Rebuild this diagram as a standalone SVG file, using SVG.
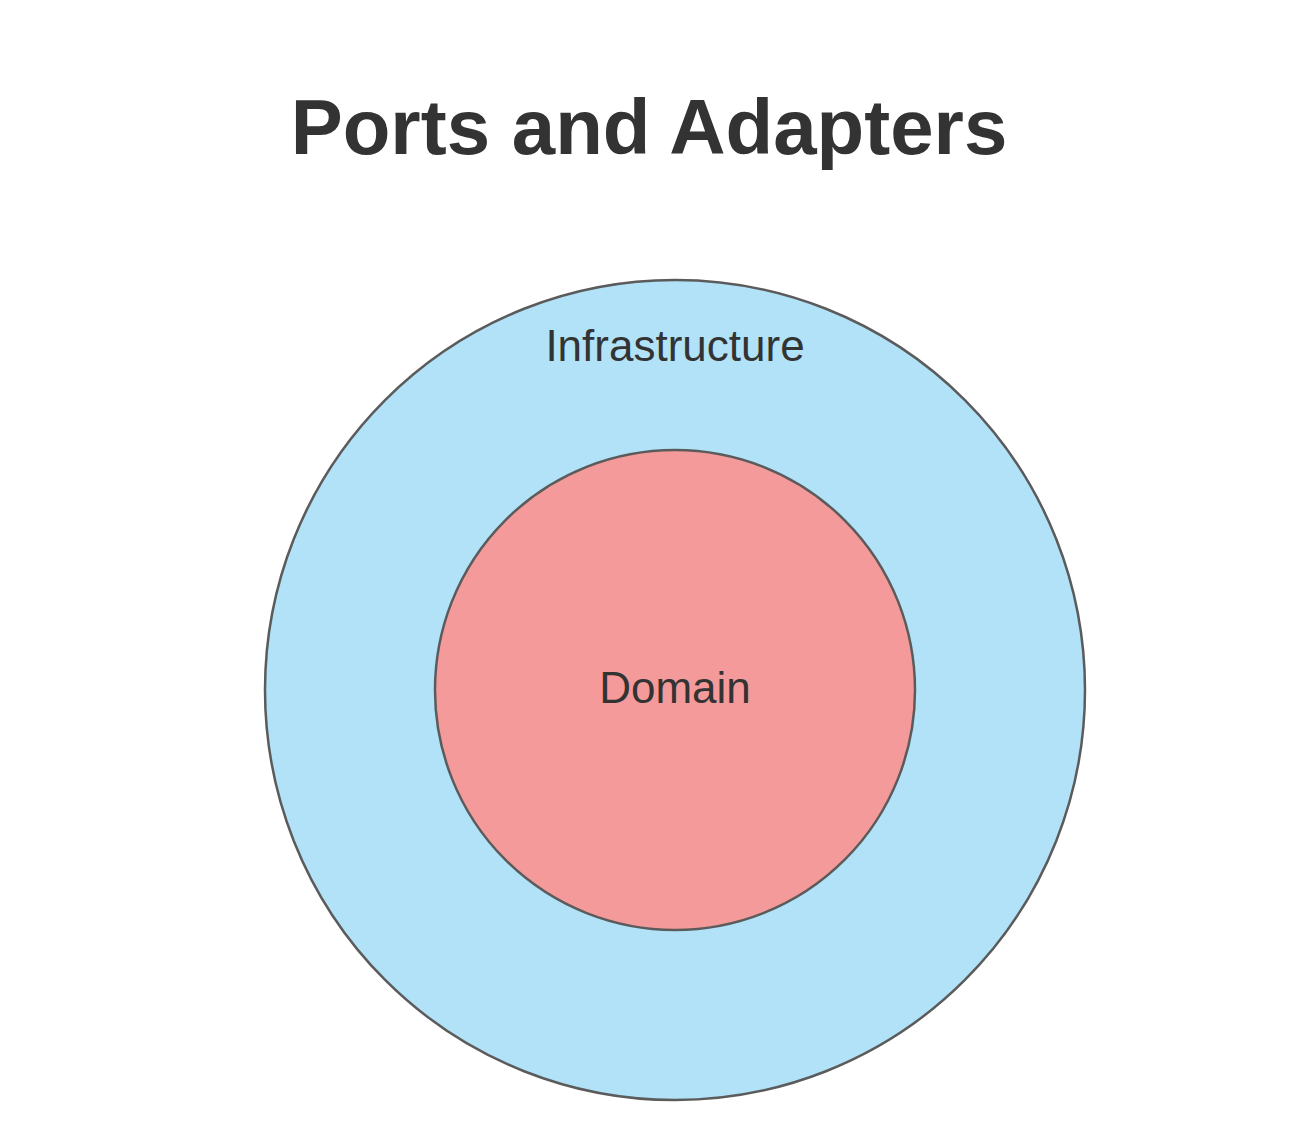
<svg xmlns="http://www.w3.org/2000/svg" width="1300" height="1140" viewBox="0 0 1300 1140">
<style>
.ring{stroke:#5b5b5b;stroke-width:2.5}
.lbl{font-family:"Liberation Sans",Arial,sans-serif;fill:#333333;text-anchor:middle}
</style>
<rect width="1300" height="1140" fill="#ffffff"/>
<text class="lbl" x="649" y="154" font-size="78" font-weight="bold">Ports and Adapters</text>
<g id="infrastructure">
<circle class="ring" cx="675" cy="690" r="410" fill="#b1e2f8"/>
<text class="lbl" x="675" y="361" font-size="44">Infrastructure</text>
</g>
<g id="domain">
<circle class="ring" cx="675" cy="690" r="240" fill="#f49a9a"/>
<text class="lbl" x="675" y="703" font-size="44">Domain</text>
</g>
<g id="connectors"></g>
</svg>
